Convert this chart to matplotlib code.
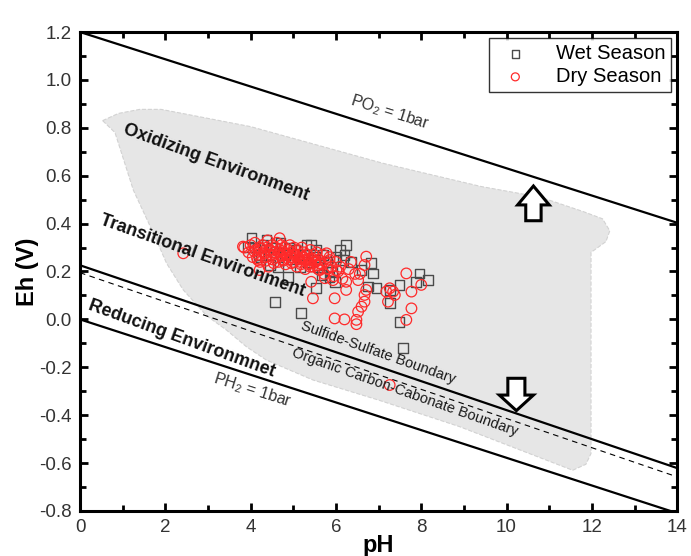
import matplotlib
matplotlib.use("Agg")
import matplotlib.pyplot as plt
from matplotlib.patches import Polygon
from matplotlib.ticker import MultipleLocator

plt.rcParams["font.family"] = ["Liberation Sans", "DejaVu Sans"]
plt.rcParams["mathtext.fontset"] = "custom"
plt.rcParams["mathtext.rm"] = "Liberation Sans"
plt.rcParams["axes.unicode_minus"] = False

# Boundary lines: Eh = intercept + slope * pH
PH_RANGE = [0, 14]
PO2_LINE = (1.2, -0.0569)
PH2_LINE = (0.0, -0.0578)
SULFIDE_LINE = (0.226, -0.0605)
CARBON_LINE = (0.195, -0.0609)

# Outline of the natural-water Eh-pH field (shaded)
FIELD_PH = [0.53, 0.9, 1.4, 1.9, 2.4, 4.0, 7.1, 9.4, 10.8, 11.8, 12.25, 12.42,
            12.33, 12.1, 11.98, 11.98, 11.86, 11.55, 8.9, 7.0, 5.46, 4.37,
            3.9, 3.43, 2.97, 2.42, 2.03, 1.72, 1.25, 0.82]
FIELD_EH = [0.83, 0.86, 0.877, 0.877, 0.86, 0.805, 0.652, 0.555, 0.51, 0.45,
            0.42, 0.37, 0.325, 0.295, 0.28, -0.56, -0.605, -0.63, -0.448,
            -0.337, -0.253, -0.17, -0.114, -0.044, 0.015, 0.123, 0.234, 0.36,
            0.54, 0.78]

# Wet season samples
wet_ph = [4.02, 4.57, 5.19, 6.24, 4.88, 5.54, 5.42, 6.09, 6.17, 6.36, 6.6,
          6.83, 6.87, 6.75, 6.95, 7.49, 7.26, 7.96, 7.88, 8.16, 7.26, 7.49,
          7.57, 4.45, 5.66, 5.85, 5.97, 5.31, 5.54, 4.25, 3.94, 4.37, 6.2,
          4.1, 4.2, 4.3, 4.5, 4.6, 4.65, 4.7, 4.8, 4.9, 5.0, 5.05, 5.15,
          5.25, 5.35, 5.5, 5.6, 5.7, 5.8, 5.9, 6.0]
wet_eh = [0.339, 0.074, 0.025, 0.311, 0.178, 0.13, 0.311, 0.29, 0.248, 0.241,
          0.206, 0.234, 0.192, 0.137, 0.13, 0.144, 0.123, 0.192, 0.157, 0.164,
          0.067, -0.01, -0.121, 0.227, 0.185, 0.178, 0.157, 0.311, 0.29, 0.262,
          0.304, 0.331, 0.27, 0.30, 0.27, 0.31, 0.30, 0.28, 0.22, 0.32, 0.27,
          0.30, 0.25, 0.29, 0.22, 0.27, 0.24, 0.26, 0.22, 0.27, 0.24, 0.20,
          0.26]

# Dry season samples
dry_ph = [2.42, 3.82, 4.21, 4.17, 5.46, 5.97, 5.42, 5.74, 5.93, 6.24, 6.24,
          6.01, 5.97, 6.2, 6.48, 6.48, 6.52, 6.6, 6.67, 6.67, 6.71, 6.52,
          6.71, 6.67, 6.56, 7.18, 7.26, 7.34, 7.22, 7.38, 7.65, 7.77, 7.77,
          7.65, 8.0, 5.39, 5.62, 5.78, 5.85, 4.68, 7.26,
          3.85, 3.95, 4.0, 4.05, 4.1, 4.12, 4.18, 4.2, 4.22, 4.28, 4.3, 4.35,
          4.38, 4.4, 4.42, 4.45, 4.48, 4.5, 4.52, 4.55, 4.58, 4.6, 4.62, 4.65,
          4.68, 4.7, 4.72, 4.75, 4.78, 4.8, 4.82, 4.85, 4.88, 4.9, 4.92, 4.95,
          4.98, 5.0, 5.02, 5.05, 5.08, 5.1, 5.12, 5.15, 5.18, 5.2, 5.22, 5.25,
          5.28, 5.3, 5.33, 5.36, 5.4, 5.42, 5.45, 5.48, 5.5, 5.55, 5.58, 5.6,
          5.65, 5.7, 5.72, 5.75, 5.8, 5.85, 5.9, 5.95, 6.0, 6.05, 6.1, 6.15,
          6.3, 6.35, 6.45,
          4.08, 4.25, 4.33, 4.47, 4.56, 4.66, 4.74, 4.86, 4.94, 5.04, 5.14,
          5.24, 5.32, 5.44, 5.52, 5.62, 4.15, 4.36, 4.54, 4.76, 4.96, 5.16,
          5.38, 5.57]
dry_eh = [0.276, 0.304, 0.206, 0.248, 0.088, 0.088, 0.157, 0.172, 0.164,
          0.157, 0.123, 0.206, 0.004, 0.0, -0.002, -0.02, 0.032, 0.053, 0.074,
          0.102, 0.123, 0.164, 0.262, 0.227, 0.19, 0.116, 0.13, 0.116, 0.074,
          0.102, 0.192, 0.116, 0.046, -0.002, 0.144, 0.22, 0.206, 0.276, 0.248,
          0.339, -0.274,
          0.30, 0.28, 0.31, 0.26, 0.32, 0.29, 0.27, 0.30, 0.24, 0.31, 0.28,
          0.26, 0.30, 0.33, 0.22, 0.29, 0.27, 0.31, 0.25, 0.28, 0.30, 0.26,
          0.32, 0.24, 0.29, 0.27, 0.31, 0.25, 0.28, 0.30, 0.23, 0.27, 0.29,
          0.25, 0.31, 0.26, 0.28, 0.24, 0.30, 0.27, 0.22, 0.29, 0.25, 0.27,
          0.23, 0.30, 0.26, 0.28, 0.21, 0.25, 0.27, 0.23, 0.29, 0.25, 0.22,
          0.27, 0.24, 0.28, 0.21, 0.25, 0.23, 0.27, 0.19, 0.24, 0.21, 0.26,
          0.22, 0.18, 0.24, 0.20, 0.22, 0.17, 0.21, 0.24, 0.19,
          0.285, 0.295, 0.275, 0.285, 0.27, 0.28, 0.265, 0.275, 0.26, 0.265,
          0.255, 0.26, 0.245, 0.255, 0.24, 0.235, 0.255, 0.245, 0.235, 0.245,
          0.235, 0.24, 0.235, 0.225]


def line_eh(coef):
    b, m = coef
    return [b + m * p for p in PH_RANGE]


def hollow_arrow(ax, x, tail, tip, head_base, head_w, shaft_w):
    pts = [(x - shaft_w, tail), (x - shaft_w, head_base), (x - head_w, head_base),
           (x, tip), (x + head_w, head_base), (x + shaft_w, head_base),
           (x + shaft_w, tail)]
    ax.add_patch(Polygon(pts, closed=True, facecolor="white", edgecolor="black",
                         linewidth=2.2, joinstyle="miter", zorder=4))


fig = plt.figure(figsize=(6.91, 5.56), dpi=100)
ax = fig.add_axes([0.1158, 0.081, 0.8642, 0.8614])

ax.add_patch(Polygon(list(zip(FIELD_PH, FIELD_EH)), closed=True,
                     facecolor="#e6e6e6", edgecolor="#d2d2d2", linewidth=0.8,
                     linestyle="--", zorder=0))

ax.plot(PH_RANGE, line_eh(PO2_LINE), color="black", lw=1.6, zorder=2)
ax.plot(PH_RANGE, line_eh(PH2_LINE), color="black", lw=1.6, zorder=2)
ax.plot(PH_RANGE, line_eh(SULFIDE_LINE), color="black", lw=1.6, zorder=2)
ax.plot(PH_RANGE, line_eh(CARBON_LINE), color="black", lw=0.8,
        ls=(0, (5, 4)), zorder=2)

ax.scatter(wet_ph, wet_eh, s=50, marker="s", facecolors="none",
           edgecolors="#4a4a4a", linewidths=1.0, label="Wet Season", zorder=3)
ax.scatter(dry_ph, dry_eh, s=58, marker="o", facecolors="none",
           edgecolors="#ff2a2a", linewidths=0.9, label="Dry Season", zorder=3)

hollow_arrow(ax, 10.63, 0.412, 0.557, 0.478, 0.37, 0.18)
hollow_arrow(ax, 10.23, -0.246, -0.381, -0.316, 0.40, 0.20)

# region and boundary labels
bold_kw = dict(fontsize=13, fontweight="bold", color="#111111",
               ha="center", va="center", rotation_mode="anchor")
ax.text(3.19, 0.653, "Oxidizing Environment", rotation=-20, **bold_kw)
ax.text(2.86, 0.265, "Transitional Environment", rotation=-19.5, **bold_kw)
ax.text(2.39, -0.082, "Reducing Environmnet", rotation=-20, **bold_kw)

thin_kw = dict(fontsize=10.5, color="#1a1a1a", ha="center", va="center",
               rotation_mode="anchor")
ax.text(7.0, -0.14, "Sulfide-Sulfate Boundary", rotation=-19.5, **thin_kw)
ax.text(7.61, -0.305, "Organic Carbon-Cabonate Boundary", rotation=-19.5,
        **thin_kw)

gas_kw = dict(fontsize=11.5, color="#333333", ha="center", va="center",
              rotation_mode="anchor")
ax.text(7.26, 0.866, r"PO$_2$ = 1bar", rotation=-17.5, **gas_kw)
ax.text(4.05, -0.295, r"PH$_2$ = 1bar", rotation=-17.5, **gas_kw)

ax.set_xlim(0, 14)
ax.set_ylim(-0.8, 1.2)
ax.xaxis.set_major_locator(MultipleLocator(2))
ax.xaxis.set_minor_locator(MultipleLocator(1))
ax.yaxis.set_major_locator(MultipleLocator(0.2))
ax.yaxis.set_minor_locator(MultipleLocator(0.1))
ax.tick_params(which="both", direction="in", top=True, right=True, width=2,
               labelsize=13.5, labelcolor="#333333", pad=6)
ax.tick_params(which="major", length=6)
ax.tick_params(which="minor", length=4)
for sp in ax.spines.values():
    sp.set_linewidth(2.2)

ax.set_xlabel("pH", fontsize=17, fontweight="bold", labelpad=-2)
ax.set_ylabel("Eh (V)", fontsize=17, fontweight="bold", labelpad=0)

leg = ax.legend(loc="upper right", fontsize=14.5, frameon=True, fancybox=False,
                borderaxespad=0.3, handletextpad=1.0, borderpad=0.3,
                labelspacing=0.2, markerscale=0.75, handlelength=2.0)
leg.get_frame().set_edgecolor("black")
leg.get_frame().set_linewidth(1.0)

fig.savefig("out.png", dpi=100)
